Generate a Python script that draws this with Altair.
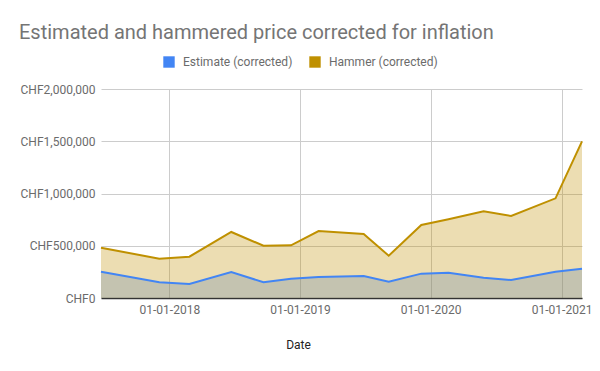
import altair as alt
import pandas as pd

dates = ["2017-06-24", "2017-12-04", "2018-02-26", "2018-06-23", "2018-09-21",
         "2018-12-07", "2019-02-22", "2019-06-28", "2019-09-06", "2019-12-06",
         "2020-02-20", "2020-05-28", "2020-08-13", "2020-12-15", "2021-02-27"]
estimate = [252000, 150000, 134000, 249000, 150000, 185000, 201000, 210000,
            156000, 233000, 242000, 194000, 172000, 252000, 281000]
hammer = [481000, 376000, 395000, 632000, 500000, 504000, 641000, 612000,
          405000, 699000, 753000, 830000, 785000, 954000, 1499000]
series = ["Estimate (corrected)", "Hammer (corrected)"]
colors = ["#4285f4", "#bf9000"]
x_tick_years = [2018, 2019, 2020, 2021]
y_ticks = [0, 500000, 1000000, 1500000, 2000000]

rows = []
for name, vals in zip(series, [estimate, hammer]):
    for d, v in zip(dates, vals):
        rows.append({"date": d + "T00:00:00", "value": v, "series": name})
df = pd.DataFrame(rows)


def dt(s):
    y, m, d = (int(v) for v in s.split("-"))
    return alt.DateTime(year=y, month=m, date=d)


LABEL_COLOR = "#6b6b6b"

x_enc = alt.X(
    "date:T",
    scale=alt.Scale(domain=[dt(dates[0]), dt(dates[-1])], nice=False),
    axis=alt.Axis(
        values=[alt.DateTime(year=y, month=1, date=1) for y in x_tick_years],
        format="%d-%m-%Y", title="Date", ticks=False, labelPadding=6,
        labelFont="Roboto", labelFontSize=12, labelColor=LABEL_COLOR,
        domainColor="#333333", domainWidth=1.5, gridColor="#cccccc",
        titleX=197, titleY=46, titleBaseline="middle", titleFont="Roboto",
        titleColor="#222222", titleFontWeight="normal", titleFontSize=12,
    ),
)

y_enc = alt.Y(
    "value:Q",
    scale=alt.Scale(domain=[0, 2000000], nice=False),
    axis=alt.Axis(values=y_ticks, labelExpr="'CHF' + format(datum.value, ',')",
                  labelFont="Roboto", labelFontSize=12, labelColor=LABEL_COLOR,
                  title=None, domain=False, ticks=False, labelPadding=6,
                  gridColor="#cccccc"),
)

cscale = alt.Scale(domain=series, range=colors)
legend = alt.Legend(title=None, orient="none", legendX=62, legendY=-33,
                    direction="horizontal", symbolType="square",
                    symbolSize=130, symbolOpacity=1, symbolStrokeWidth=0,
                    labelFontSize=12, labelColor=LABEL_COLOR, labelOffset=8,
                    labelFont="Roboto", columnPadding=16)

base = alt.Chart(df)


def area(name):
    return base.transform_filter(alt.datum.series == name).mark_area(opacity=0.3).encode(
        x=x_enc, y=y_enc, color=alt.Color("series:N", scale=cscale, legend=legend))


def line(name):
    return base.transform_filter(alt.datum.series == name).mark_line(strokeWidth=2).encode(
        x=x_enc, y=y_enc, stroke=alt.Stroke("series:N", scale=cscale, legend=None))


chart = alt.layer(area(series[0]), area(series[1]), line(series[0]), line(series[1])).properties(
    width=481, height=209, background="white",
    title=alt.TitleParams("Estimated and hammered price corrected for inflation",
                          anchor="start", frame="group", dx=-82, dy=-9, fontSize=20,
                          font="Roboto", color="#757575", fontWeight="normal"),
    autosize=alt.AutoSizeParams(type="none"),
    padding={"left": 93, "top": 81, "right": 10, "bottom": 60},
).configure_view(stroke=None)

chart.save("out.html", embed_options={"renderer": "svg", "actions": False})
